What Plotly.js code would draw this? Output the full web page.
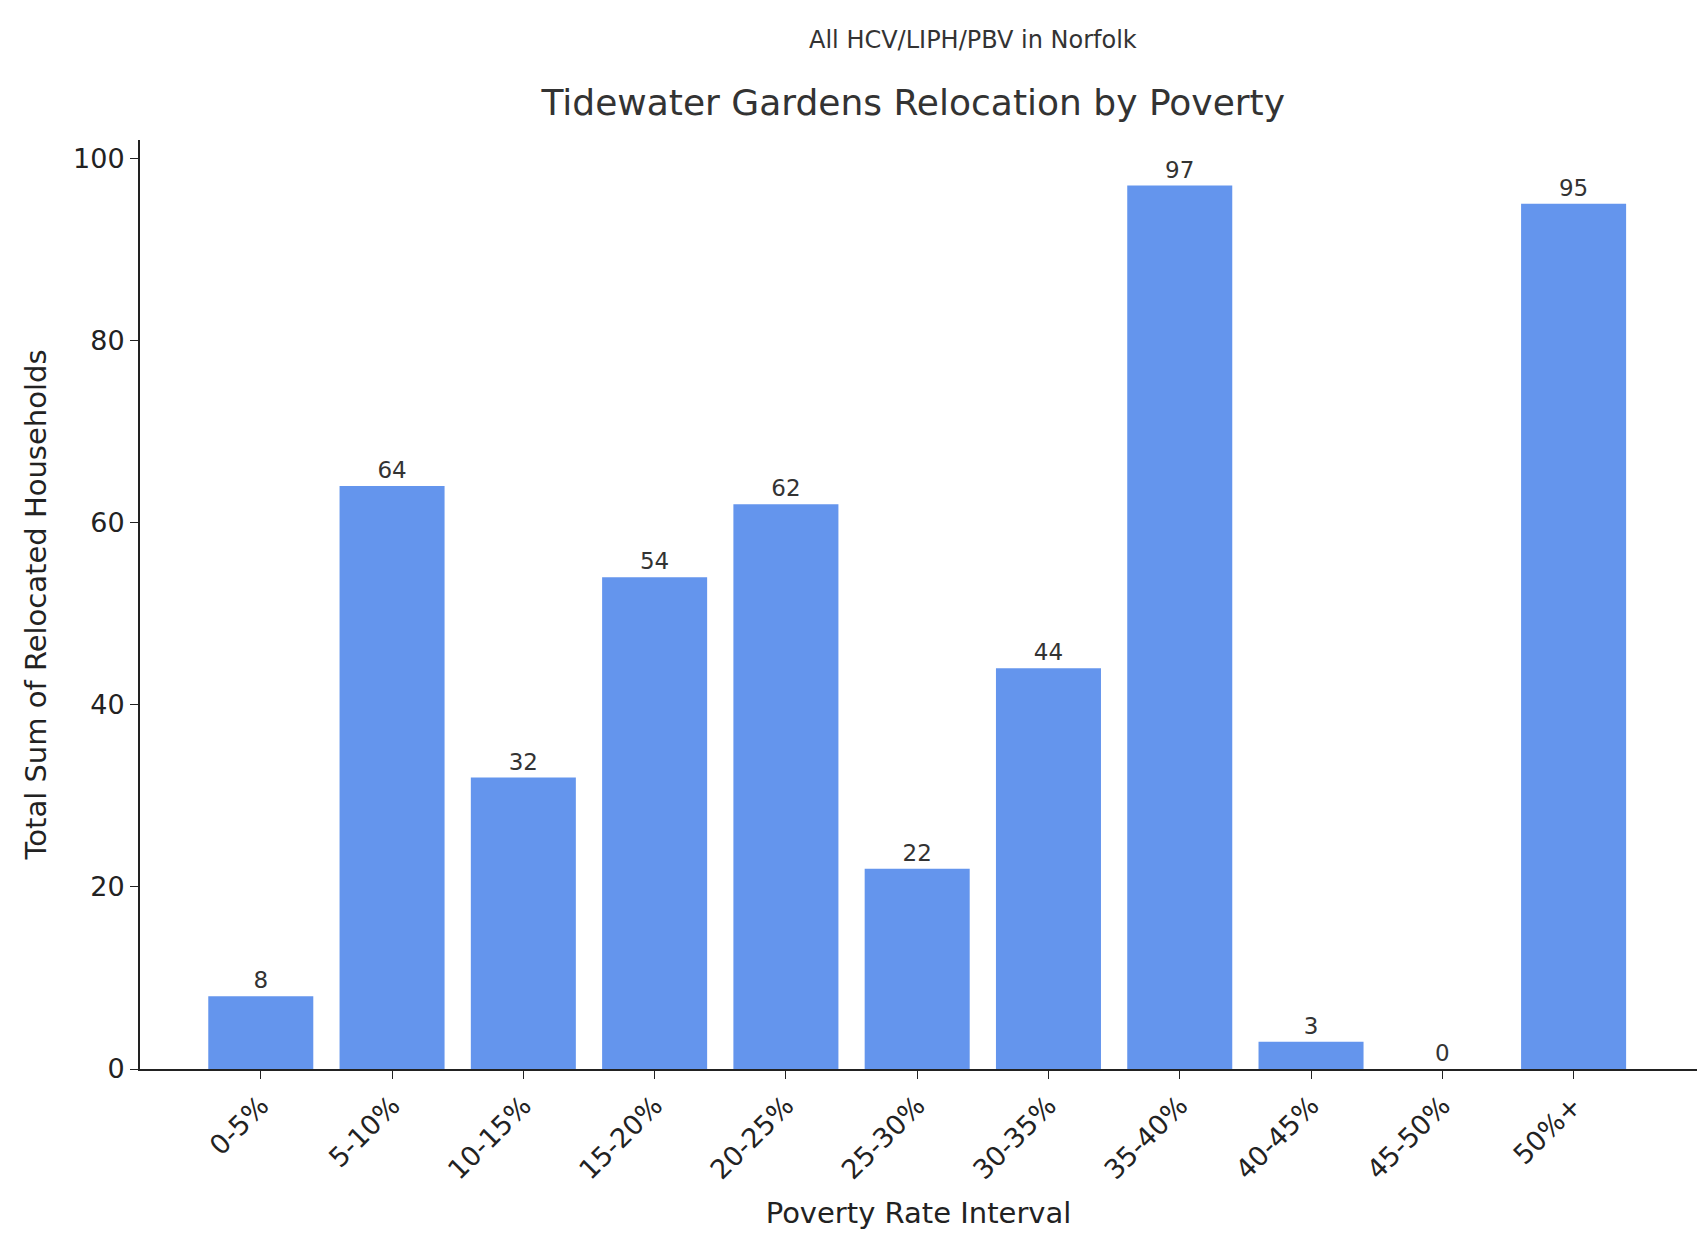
<html><head><script src="https://cdn.plot.ly/plotly-3.0.0.min.js"></script></head>
<body style="margin:0"><div id="chart" style="width:1707px;height:1252px"></div>
<script>
const categories = ['0-5%','5-10%','10-15%','15-20%','20-25%','25-30%','30-35%','35-40%','40-45%','45-50%','50%+'];
const households = [8,64,32,54,62,22,44,97,3,0,95];

const font = { family: 'DejaVu Sans', color: '#222' };

Plotly.newPlot('chart', [{
  x: categories,
  y: households,
  type: 'bar',
  width: 0.8,
  marker: { color: '#6495ED' },
  text: households.map(String),
  textposition: 'outside',
  cliponaxis: false,
  textfont: { family: 'DejaVu Sans', size: 23, color: '#333' }
}], {
  width: 1707, height: 1252,
  margin: { l: 140, r: 10, t: 140, b: 183 },
  paper_bgcolor: 'white', plot_bgcolor: 'white',
  font: font,
  showlegend: false,
  title: { text: 'Tidewater Gardens Relocation by Poverty', font: { family: 'DejaVu Sans', size: 36, color: '#333' }, x: 0.535, xanchor: 'center', y: 0.918, yanchor: 'middle' },
  annotations: [{ text: 'All HCV/LIPH/PBV in Norfolk', xref: 'paper', yref: 'paper', x: 0.535, y: 1.125, showarrow: false, font: { family: 'DejaVu Sans', size: 24, color: '#333' } }],
  xaxis: {
    range: [-0.92, 10.94],
    tickangle: -45,
    tickfont: { size: 27 },
    ticks: 'outside', ticklen: 8, tickcolor: '#222',
    showline: true, linecolor: '#222', linewidth: 2,
    showgrid: false,
    title: { text: 'Poverty Rate Interval', font: { size: 29 }, standoff: 18 }
  },
  yaxis: {
    range: [0, 102],
    tickvals: [0,20,40,60,80,100],
    tickfont: { size: 27 },
    ticks: 'outside', ticklen: 8, tickcolor: '#222',
    showline: true, linecolor: '#222', linewidth: 2,
    showgrid: false, zeroline: false,
    title: { text: 'Total Sum of Relocated Households', font: { size: 29 }, standoff: 18 }
  },
  bargap: 0.2
}, { displayModeBar: false });
</script></body></html>
